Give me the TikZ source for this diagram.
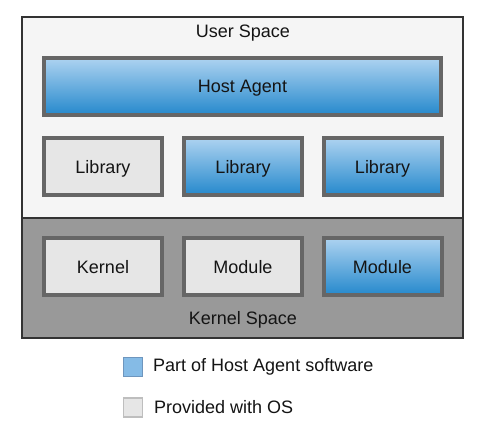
\documentclass[tikz,border=0pt]{standalone}
\usepackage{fontspec}
\setmainfont{Liberation Sans}
\definecolor{bluetop}{RGB}{172,210,240}
\definecolor{bluebot}{RGB}{36,136,204}
\definecolor{boxgray}{RGB}{230,230,230}
\definecolor{edgegray}{RGB}{102,102,102}
\definecolor{userbg}{RGB}{245,245,245}
\definecolor{kernbg}{RGB}{153,153,153}
\definecolor{framec}{RGB}{51,51,51}
\definecolor{legblue}{RGB}{133,187,230}
\definecolor{legblueedge}{RGB}{110,150,190}
\definecolor{leggrayedge}{RGB}{190,190,190}
\definecolor{txt}{RGB}{20,20,20}
\begin{document}
\begin{tikzpicture}[x=1pt,y=-1pt,
  every node/.style={font=\fontsize{18}{21}\selectfont, text=txt},
  compbox/.style={draw=edgegray, line width=4pt, minimum width=118pt, minimum height=57pt, inner sep=0pt, text depth=1pt},
  agentbox/.style={compbox, top color=bluetop, bottom color=bluebot},
  osbox/.style={compbox, fill=boxgray},
  legsq/.style={line width=1.5pt, minimum width=19pt, minimum height=19pt, inner sep=0pt}
]
\useasboundingbox (0,0) rectangle (485,430);
\fill[white] (0,0) rectangle (485,430);
% regions
\fill[userbg] (22,17) rectangle (463,218);
\fill[kernbg] (22,218) rectangle (463,338);
\draw[framec, line width=2pt] (22,17) rectangle (463,338);
\draw[framec, line width=2pt] (22,218) -- (463,218);
\node (us) at (243,33) {User Space};
\node (ks) at (243,320) {Kernel Space};
% host agent
\node[agentbox, minimum width=397pt] (host) at (242.5,87) {Host Agent};
% libraries
\node[osbox] (lib1) at (103,167) {Library};
\node[agentbox] (lib2) at (243,167) {Library};
\node[agentbox] (lib3) at (382.5,167) {Library};
% kernel row
\node[osbox] (kern) at (103,267) {Kernel};
\node[osbox] (mod1) at (243,267) {Module};
\node[agentbox] (mod2) at (382.5,267) {Module};
% legend
\node[legsq, draw=legblueedge, fill=legblue] (lb) at (133,367) {};
\node[anchor=west, inner sep=0pt] (lbt) at (153,367) {Part of Host Agent software};
\node[legsq, draw=leggrayedge, fill=boxgray] (lg) at (133,407.5) {};
\node[anchor=west, inner sep=0pt] (lgt) at (154,407) {Provided with OS};
\end{tikzpicture}
\end{document}
